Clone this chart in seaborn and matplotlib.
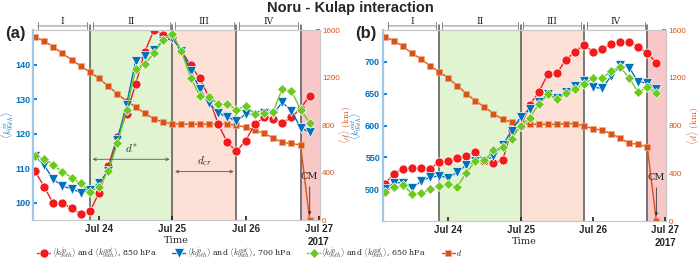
import pandas as pd
import matplotlib
matplotlib.use('Agg')
import matplotlib.pyplot as plt
import matplotlib.dates as mdates
import matplotlib.transforms as mtransforms
import seaborn as sns

sns.set_theme(style='white')
plt.rcParams['font.family'] = ['Liberation Sans', 'DejaVu Sans']
plt.rcParams['mathtext.fontset'] = 'cm'

# 3-hourly samples
TIMES = pd.date_range('2017-07-23 03:00', periods=31, freq='3h')

# panel (a): <k_in_95th>
A_850 = [109.2, 104.7, 99.8, 99.8, 98.5, 96.7, 97.5, 102.9, 110.6, 119.1, 125.7,
         134.4, 143.8, 150.0, 148.6, 148.0, 144.0, 139.8, 136.0, 130.5, 122.8,
         117.5, 114.9, 118.0, 122.7, 124.8, 124.4, 123.1, 124.8, 127.3, 131.0]
A_700 = [113.5, 110.9, 106.8, 104.8, 104.1, 102.9, 103.7, 105.8, 109.2, 118.3, 128.4,
         141.2, 142.4, 144.3, 146.9, 147.7, 144.0, 138.3, 133.0, 128.8, 126.0,
         124.9, 123.6, 125.7, 125.5, 126.0, 125.7, 129.1, 126.7, 121.7, 120.5]
A_650 = [113.5, 112.8, 110.9, 109.0, 107.3, 105.6, 103.1, 104.7, 109.2, 117.2, 127.0,
         138.6, 140.2, 143.4, 147.2, 148.9, 143.9, 136.2, 131.0, 130.5, 128.7,
         128.5, 127.0, 128.0, 125.7, 126.0, 126.3, 133.0, 132.5, 127.0, 123.1]
A_D = [1538, 1510, 1459, 1404, 1350, 1297, 1246, 1193, 1128, 1063, 1002, 954, 898,
       853, 825, 811, 808, 808, 808, 808, 808, 808, 800, 781, 758, 730, 693, 654,
       646, 632, 0]

# panel (b): <k_out_95th>
B_850 = [508.8, 524.5, 532.4, 532.9, 534.0, 532.4, 543.0, 544.4, 548.5, 552.2, 559.1,
         545.0, 541.8, 545.4, 593.0, 599.3, 632.0, 652.8, 680.7, 682.0, 703.5,
         715.8, 726.7, 716.3, 720.0, 728.0, 732.1, 732.1, 723.6, 713.5, 699.0]
B_700 = [499.9, 510.4, 510.4, 501.5, 512.9, 519.2, 520.8, 518.3, 527.0, 538.1, 544.4,
         544.4, 552.2, 569.0, 592.0, 613.5, 625.6, 637.0, 649.2, 644.0, 653.5,
         662.3, 670.1, 660.5, 658.5, 678.0, 694.5, 691.2, 668.5, 667.6, 657.0]
B_650 = [496.3, 504.1, 506.6, 493.1, 493.6, 499.9, 505.1, 507.7, 504.1, 526.0, 544.4,
         545.4, 561.0, 566.8, 579.6, 600.0, 612.6, 633.5, 649.2, 641.4, 650.8,
         657.1, 665.0, 674.4, 674.4, 685.9, 692.2, 674.8, 652.3, 660.2, 651.4]
B_D = [1544, 1510, 1463, 1407, 1357, 1301, 1251, 1198, 1133, 1069, 1007, 956, 901,
       853, 831, 815, 811, 811, 811, 811, 817, 817, 797, 775, 761, 733, 694, 652,
       644, 621, 0]

PHASE_BOUNDS = pd.to_datetime(['2017-07-23 21:00', '2017-07-25 00:00',
                               '2017-07-25 21:00', '2017-07-26 18:00'])
PHASE_NAMES = ['I', 'II', 'III', 'IV']
XTICKS = pd.to_datetime(['2017-07-24', '2017-07-25', '2017-07-26', '2017-07-27'])
XLIM = (pd.Timestamp('2017-07-23 02:20'), pd.Timestamp('2017-07-27 00:20'))

C_RED, C_BLUE, C_GREEN, C_D = '#f21a1a', '#0072BD', '#6cc91f', '#D95319'
SERIES = [('850 hPa', C_RED, 'o', 6.5), ('700 hPa', C_BLUE, 'v', 6.5),
          ('650 hPa', C_GREEN, 'D', 5.0)]

num = mdates.date2num


def draw_panel(ax, ks, dvals, ylim, yticks, ylabel, tag, lx, rx):
    ax2 = ax.twinx()
    ax.set_zorder(2)
    ax2.set_zorder(1)
    ax.patch.set_visible(False)

    # phase shading
    ax2.axvspan(PHASE_BOUNDS[0], PHASE_BOUNDS[1], color='#e1f4d1', lw=0)
    ax2.axvspan(PHASE_BOUNDS[1], PHASE_BOUNDS[2], color='#fde0d5', lw=0)
    ax2.axvspan(PHASE_BOUNDS[3], XLIM[1], color='#f8c7c7', lw=0)
    for b in PHASE_BOUNDS:
        ax2.axvline(b, ymin=0, ymax=1.025, color='#555555', lw=1.1, clip_on=False)

    sns.lineplot(x=TIMES, y=dvals, ax=ax2, color=C_D, marker='s', markersize=4.5,
                 markeredgecolor='#f3a77f', markeredgewidth=0.5, linewidth=1,
                 label='$d$', legend=False)
    for (lab, col, mk, ms), vals in zip(SERIES, ks):
        sns.lineplot(x=TIMES, y=vals, ax=ax, color=col, marker=mk, markersize=ms,
                     markeredgecolor='white', markeredgewidth=0.5, linewidth=1,
                     label=r'$\langle k^{in}_{95th}\rangle$ and '
                           r'$\langle k^{out}_{95th}\rangle$, ' + lab,
                     legend=False)

    ax.set_xlim(*XLIM)
    ax.set_ylim(*ylim)
    ax.set_yticks(yticks)
    ax2.set_ylim(0, 1600)
    ax2.set_yticks([0, 400, 800, 1200, 1600])
    ax.set_xticks(XTICKS)
    ax.xaxis.set_major_formatter(mdates.DateFormatter('%b %d'))

    ax.tick_params(axis='y', colors=C_BLUE, labelsize=6.5, direction='in', length=3,
                   pad=2, left=True)
    for t in ax.get_yticklabels():
        t.set_fontweight('bold')
    ax2.tick_params(axis='y', colors=C_D, labelsize=5.8, direction='in', length=3,
                    pad=1.5, right=True)
    ax.tick_params(axis='x', labelsize=7, direction='in', length=3, pad=3, bottom=True)
    for t in ax.get_xticklabels():
        t.set_fontweight('bold')

    for a in (ax, ax2):
        for s in a.spines.values():
            s.set_color('#c8c8c8')
            s.set_linewidth(0.8)
    ax.spines['left'].set_color('#9fc7ea')
    ax.spines['left'].set_linewidth(1.6)
    ax2.spines['left'].set_visible(False)
    ax2.spines['right'].set_color('#e9a98a')

    ax.set_ylabel(ylabel, color=C_BLUE, fontsize=6.8)
    ax.yaxis.set_label_coords(lx, 0.5)
    ax2.set_ylabel(r'$\langle d\rangle\ (\mathrm{km})$', color=C_D, fontsize=6.8)
    ax2.yaxis.set_label_coords(rx, 0.5)
    ax.set_xlabel('Time', family='serif', fontsize=7, labelpad=1)
    trans = mtransforms.blended_transform_factory(ax.transData, ax.transAxes)
    ax.text(num(XTICKS[-1]), -0.09, '2017', transform=trans, ha='center', va='top',
            fontsize=7, fontweight='bold')

    # phase arrows on top
    edges = [num(TIMES[0])] + [num(b) for b in PHASE_BOUNDS]
    for name, x0, x1 in zip(PHASE_NAMES, edges[:-1], edges[1:]):
        ax.annotate('', xy=(x0, 1.022), xytext=(x1, 1.022), xycoords=trans,
                    textcoords=trans, annotation_clip=False,
                    arrowprops=dict(arrowstyle='|-|', color='#777777', lw=0.6,
                                    mutation_scale=2.5))
        ax.text((x0 + x1) / 2, 1.045, name, transform=trans, ha='center',
                va='center', family='serif', fontsize=6.5, clip_on=False)

    # CM marker
    ax2.annotate('CM', xy=(num(TIMES[-1]), 20), xytext=(num(TIMES[-1]), 330),
                 ha='center', va='bottom', family='serif', fontsize=7,
                 arrowprops=dict(arrowstyle='-|>', color='#333333', lw=0.6,
                                 mutation_scale=4))

    ax.figure.text(ax.get_position().x0 - 0.04, 0.875, tag, fontsize=12,
                   fontweight='bold', ha='left', va='center')
    return ax2


fig = plt.figure(figsize=(7, 2.69), dpi=100)
ax_a = fig.add_axes([0.047, 0.182, 0.41, 0.706])
ax_b = fig.add_axes([0.547, 0.178, 0.405, 0.71])

ax2_a = draw_panel(ax_a, [A_850, A_700, A_650], A_D, (95, 150),
                   [100, 110, 120, 130, 140], r'$\langle k^{in}_{95th}\rangle$', '(a)',
                   -0.058, 1.062)
ax2_b = draw_panel(ax_b, [B_850, B_700, B_650], B_D, (450, 750),
                   [500, 550, 600, 650, 700], r'$\langle k^{out}_{95th}\rangle$', '(b)',
                   -0.066, 1.07)

# d* and d_cr spans in (a)
trans = mtransforms.blended_transform_factory(ax_a.transData, ax_a.transAxes)
for x0, x1, y, lab in [(num(PHASE_BOUNDS[0]), num(PHASE_BOUNDS[1]), 0.32, r'$d^{*}$'),
                       (num(PHASE_BOUNDS[1]), num(PHASE_BOUNDS[2]), 0.255, r'$d_{cr}$')]:
    ax_a.annotate('', xy=(x0, y), xytext=(x1, y), xycoords=trans, textcoords=trans,
                  arrowprops=dict(arrowstyle='<->', color='#555555', lw=0.6,
                                  mutation_scale=5))
    ax_a.text((x0 + x1) / 2, y + 0.02, lab, transform=trans, ha='center',
              va='bottom', fontsize=8)

fig.suptitle('Noru - Kulap interaction', x=0.5, y=0.995, fontsize=10.5,
             fontweight='bold')

handles, labels = ax_a.get_legend_handles_labels()
h2, l2 = ax2_a.get_legend_handles_labels()
fig.legend(handles + h2, labels + l2, loc='center', bbox_to_anchor=(0.357, 0.06),
           ncol=4, frameon=False, prop=dict(family='serif', size=5.7),
           handlelength=1.6, handletextpad=0.2, columnspacing=2.0)

fig.savefig('out.png', dpi=100, facecolor='white')
